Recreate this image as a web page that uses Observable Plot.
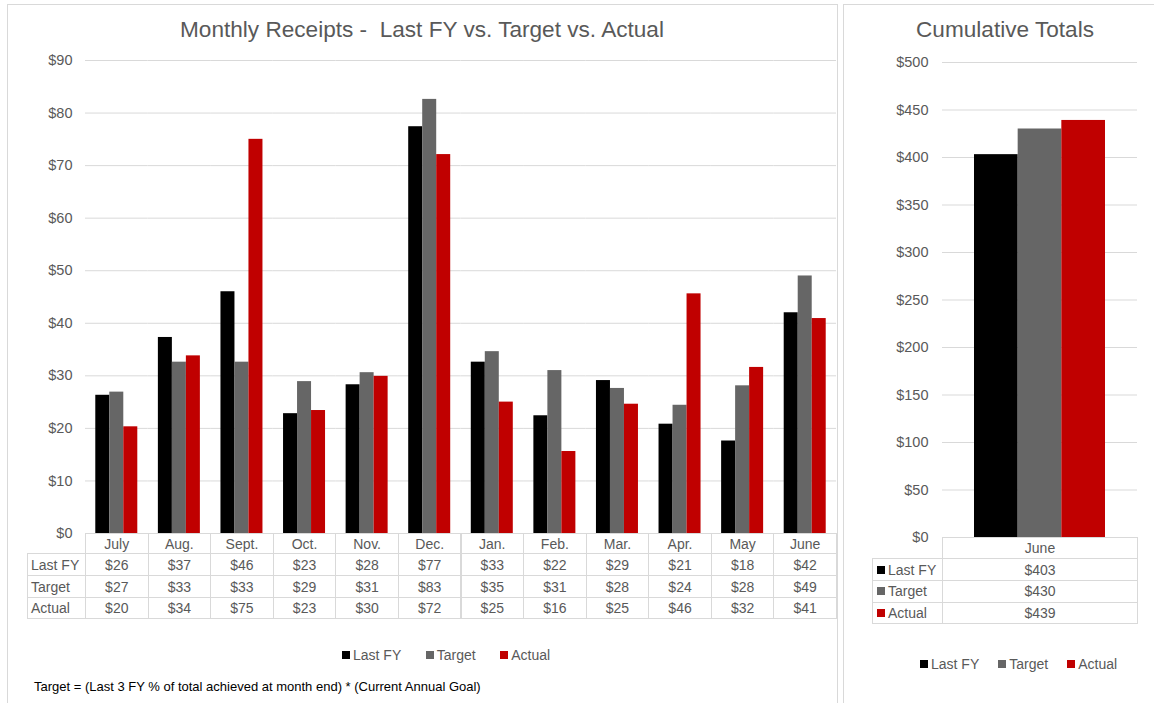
<!DOCTYPE html>
<html><head><meta charset="utf-8">
<script src="https://cdn.jsdelivr.net/npm/d3@7"></script>
<script src="https://cdn.jsdelivr.net/npm/@observablehq/plot@0.6"></script>
<style>
body{margin:0;background:#fff;font-family:"Liberation Sans",Arial,sans-serif;}
#page{position:relative;width:1154px;height:703px;overflow:hidden;background:#fff;}
.panel{position:absolute;border:1px solid #d9d9d9;box-sizing:border-box;}
.title{position:absolute;color:#595959;font-size:22.6px;white-space:pre;text-align:center;line-height:24px;}
.cell{position:absolute;box-sizing:border-box;border:1px solid #d9d9d9;display:flex;align-items:center;justify-content:center;color:#595959;font-size:14px;white-space:pre;}
.cell.lab{justify-content:flex-start;padding-left:3px;}
.legend{position:absolute;display:flex;align-items:center;color:#595959;font-size:14px;line-height:16px;}
.legend .item{display:flex;align-items:center;}
.sw{display:inline-block;width:8px;height:8px;margin-right:3px;}
.note{position:absolute;font-size:13px;color:#000;line-height:16px;white-space:pre;}
svg{position:absolute;top:0;}
</style></head><body><div id="page"></div>
<script>
// ---- data ----
const months = ["July","Aug.","Sept.","Oct.","Nov.","Dec.","Jan.","Feb.","Mar.","Apr.","May","June"];
const series = ["Last FY","Target","Actual"];
const colors = ["#000000","#666666","#C00000"];
const lastFY = [26.3, 37.3, 46.0, 22.8, 28.3, 77.4, 32.6, 22.4, 29.1, 20.8, 17.6, 42.0];
const target = [26.9, 32.6, 32.6, 28.9, 30.6, 82.6, 34.6, 31.0, 27.6, 24.4, 28.1, 49.0];
const actual = [20.3, 33.8, 75.0, 23.4, 29.9, 72.1, 25.0, 15.6, 24.6, 45.6, 31.6, 40.9];
const cumCategory = ["June"];
const cumulative = [403, 430, 439];
const leftTicks = [0,10,20,30,40,50,60,70,80,90];
const rightTicks = [0,50,100,150,200,250,300,350,400,450,500];
const leftTitle = "Monthly Receipts -  Last FY vs. Target vs. Actual";
const rightTitle = "Cumulative Totals";
const footnote = "Target = (Last 3 FY % of total achieved at month end) * (Current Annual Goal)";

const seriesValues = [lastFY, target, actual];
const money = d3.format("$.0f");
const font = '"Liberation Sans", Arial, sans-serif';
const page = document.getElementById("page");

function el(cls, css, html){ const d=document.createElement("div"); d.className=cls; Object.assign(d.style, css); if(html!=null) d.textContent=html; page.appendChild(d); return d; }

// panels
el("panel",{left:"7px",top:"4px",width:"831px",height:"710px"});
el("panel",{left:"843px",top:"4px",width:"330px",height:"710px"});
el("title",{left:"7px",top:"18px",width:"830px"},leftTitle);
el("title",{left:"843px",top:"18px",width:"324px"},rightTitle);

// ---- left chart ----
const data = months.flatMap((m,i)=>series.map((s,j)=>({month:m, series:s, value:seriesValues[j][i]})));
const left = Plot.plot({
  width: 840, height: 540,
  marginLeft: 85, marginRight: 4, marginTop: 60, marginBottom: 7,
  style:{fontFamily:font, fontSize:"14.5px", color:"#595959", background:"transparent", overflow:"visible"},
  fx:{domain:months, padding:0, axis:null, round:false},
  x:{domain:series, paddingInner:0, paddingOuter:0.735, axis:null, round:false},
  y:{domain:[0,90], ticks:leftTicks, tickFormat:d=>"$"+d, tickSize:0, tickPadding:13, label:null},
  color:{domain:series, range:colors},
  marks:[
    Plot.gridY(leftTicks.filter(d=>d>0),{stroke:"#d9d9d9", strokeOpacity:1}),
    Plot.barY(data,{fx:"month", x:"series", y:"value", fill:"series"})
  ]
});
left.style.left = "0px";
page.appendChild(left);

// ---- right chart ----
const cumData = series.map((s,j)=>({series:s, value:cumulative[j]}));
const RX = 843, RW = 311, RML = 99, RMR = 17;
const right = Plot.plot({
  width: RW, height: 545,
  marginLeft: RML, marginRight: RMR, marginTop: 62, marginBottom: 8,
  style:{fontFamily:font, fontSize:"14.5px", color:"#595959", background:"transparent", overflow:"visible"},
  x:{domain:series, paddingInner:0, paddingOuter:0.733, axis:null, round:false},
  y:{domain:[0,500], ticks:rightTicks, tickFormat:d=>"$"+d, tickSize:0, tickPadding:14, label:null},
  color:{domain:series, range:colors},
  marks:[
    Plot.gridY(rightTicks.filter(d=>d>0),{stroke:"#d9d9d9", strokeOpacity:1}),
    Plot.barY(cumData,{x:"series", y:"value", fill:"series"})
  ]
});
right.style.left = RX+"px";
page.appendChild(right);

// ---- tables ----
function cell(x0,x1,y0,y1,text,cls,border=true){
  const d = el("cell"+(cls?" "+cls:""),{left:x0+"px",top:y0+"px",width:(x1-x0+1)+"px",height:(y1-y0+1)+"px"});
  if(!border) d.style.border="none";
  if(text!=null) d.textContent=text;
  return d;
}
const fx = left.scale("fx");
const colEdges = [27, ...months.map(m=>fx.apply(m)), fx.apply(months[months.length-1])+fx.bandwidth];
const rowEdges = [533, 553, 575, 597, 618];
// header
months.forEach((m,i)=>cell(colEdges[i+1],colEdges[i+2],rowEdges[0],rowEdges[1],m));
series.forEach((s,j)=>{
  cell(colEdges[0],colEdges[1],rowEdges[j+1],rowEdges[j+2],s,"lab");
  months.forEach((m,i)=>cell(colEdges[i+1],colEdges[i+2],rowEdges[j+1],rowEdges[j+2],money(seriesValues[j][i])));
});

const rColEdges = [872, RX+RML, RX+RW-RMR];
const rRowEdges = [537, 558, 580, 601.5, 623];
cell(rColEdges[1],rColEdges[2],rRowEdges[0],rRowEdges[1],cumCategory[0]);
series.forEach((s,j)=>{
  const c = cell(rColEdges[0],rColEdges[1],rRowEdges[j+1],rRowEdges[j+2],null,"lab");
  c.style.paddingLeft="4px";
  const sw=document.createElement("span"); sw.className="sw"; sw.style.background=colors[j]; c.appendChild(sw);
  c.appendChild(document.createTextNode(s));
  cell(rColEdges[1],rColEdges[2],rRowEdges[j+1],rRowEdges[j+2],money(cumulative[j]));
});

// ---- legends ----
function legend(x,yc,gap){
  const L = el("legend",{left:x+"px",top:(yc-8)+"px",gap:gap+"px"});
  series.forEach((s,j)=>{
    const it=document.createElement("div"); it.className="item";
    const sw=document.createElement("span"); sw.className="sw"; sw.style.background=colors[j];
    it.appendChild(sw); it.appendChild(document.createTextNode(s)); L.appendChild(it);
  });
}
legend(342,655,24.5);
legend(920,664,19);

el("note",{left:"34px",top:"679px"},footnote);
</script>
</body></html>
